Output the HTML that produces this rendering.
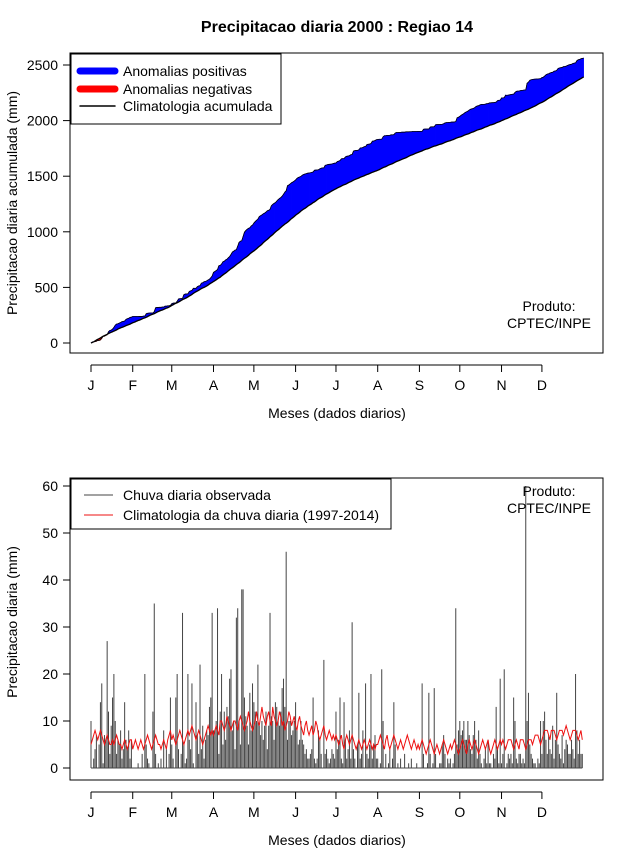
<!DOCTYPE html>
<html><head><meta charset="utf-8"><style>
body{margin:0;background:#fff;}
svg{display:block;font-family:"Liberation Sans",sans-serif;}
</style></head><body>
<svg id="chart" width="640" height="850" xmlns="http://www.w3.org/2000/svg">
<text x="337" y="32" text-anchor="middle" font-size="16" font-weight="bold">Precipitacao diaria 2000 : Regiao 14</text>
<g id="topPanel"></g>
<g id="botPanel"></g>
</svg>
<script>
const months = ["J","F","M","A","M","J","J","A","S","O","N","D"];
const monthStartDays = [0,31,60,91,121,152,182,213,244,274,305,335];
const topTicks = [0,500,1000,1500,2000,2500];
const botTicks = [0,10,20,30,40,50,60];
const climDaily = [
5,6,7,8,7,6,7,8,7,6,5,6,7,6,5,5,6,5,6,7,6,5,5,4,5,6,5,4,5,6,6,
4,5,6,5,4,5,6,5,4,5,6,7,6,5,4,5,6,7,6,5,5,4,5,6,5,4,6,7,8,
6,7,6,5,6,7,8,7,6,5,6,7,8,7,8,9,8,7,6,7,8,7,6,5,6,7,8,9,8,7,8,
7,8,9,8,7,10,10,9,8,9,11,10,9,8,9,10,10,9,8,10,11,10,9,8,9,10,12,10,9,8,
9,10,12,10,9,11,13,11,10,9,11,12,10,9,13,11,10,9,10,12,11,9,10,8,9,10,12,11,9,10,11,
9,8,10,11,9,8,7,9,10,8,7,8,9,7,8,10,9,7,6,7,8,9,7,6,7,8,7,6,7,6,
7,6,5,6,7,5,4,6,7,6,5,6,7,6,5,4,5,6,5,4,5,6,5,4,5,6,5,4,5,4,5,
5,6,7,6,5,4,6,7,5,4,5,6,7,6,5,4,5,6,5,4,5,6,7,6,5,4,5,6,5,4,5,
4,5,6,5,4,3,4,5,6,5,4,3,4,5,4,3,4,5,6,5,4,3,4,5,4,5,6,5,4,3,
4,5,6,5,4,3,5,6,5,4,5,6,5,4,3,4,5,6,5,4,5,6,4,3,4,5,6,5,4,5,6,
5,6,5,4,5,6,6,6,5,4,5,6,5,4,6,6,6,5,4,5,6,6,6,5,6,7,7,7,6,5,
6,7,8,8,8,7,6,8,8,8,7,6,7,8,8,8,7,8,9,8,7,6,7,8,8,8,7,6,7,8,6];
const obsDaily = [
10,0,2,4,7,0,5,14,18,1,7,6,27,12,3,9,15,20,10,3,6,5,8,2,4,14,6,4,8,2,6,
0,0,0,0,1,0,0,3,0,20,5,2,1,0,0,12,35,3,0,1,0,2,0,8,0,4,0,3,15,
5,2,0,15,20,4,0,3,33,5,1,2,20,6,4,18,1,0,14,7,3,22,4,9,2,6,8,7,13,15,33,
8,8,10,34,3,12,20,5,12,6,13,11,19,21,8,10,4,32,34,10,5,38,38,15,11,9,5,16,8,18,
14,12,10,22,9,7,10,6,9,12,4,9,33,11,10,6,14,13,10,9,12,17,19,13,46,6,10,10,7,8,10,
14,8,5,6,10,6,5,3,4,2,2,3,4,15,2,1,2,8,6,3,0,23,3,4,2,1,2,4,3,2,
12,4,6,15,2,1,14,6,2,4,8,2,31,4,2,0,5,16,2,3,8,0,18,3,2,5,20,2,5,7,2,
2,0,1,21,10,0,3,0,1,4,0,2,14,5,0,1,0,2,0,0,3,0,0,1,0,2,0,0,0,1,0,
0,0,18,3,0,0,1,16,3,0,1,17,3,0,0,1,1,5,7,3,0,2,1,2,0,1,3,34,5,8,
10,7,8,10,6,6,10,7,4,3,7,10,6,2,8,3,1,0,2,4,1,6,1,1,0,3,2,13,4,1,19,
1,3,21,0,1,3,2,3,1,15,10,2,1,3,3,1,2,1,60,10,16,5,3,2,1,1,0,2,1,10,
3,10,12,6,3,7,4,3,9,2,6,16,5,3,2,7,1,4,6,5,3,3,6,4,2,20,8,3,6,3,3];

const NS="http://www.w3.org/2000/svg";
function mk(parent,tag,attrs){const e=document.createElementNS(NS,tag);for(const k in attrs)e.setAttribute(k,attrs[k]);parent.appendChild(e);return e;}
const xDay = d => 91 + d*1.346;
const yTop = v => 343 - v*(278/2500);
const yBot = v => 768 - v*(282/60);
const nDays = Math.min(obsDaily.length, climDaily.length);

function axes(g, boxY, boxH, yfun, ticks, axisY, ytitle, ytitleY){
  const box=mk(g,'rect',{x:70,y:boxY,width:533,height:boxH,fill:'none',stroke:'#000'});
  
  
  ticks.forEach(t=>{
    const y=yfun(t);
    const l=mk(g,'line',{x1:63,x2:70,y1:y,y2:y,stroke:'#000'});
    
    
    const tx=mk(g,'text',{x:58,y:y+5,'text-anchor':'end','font-size':14});
    tx.textContent=t;
    
    
  });
  const ax=mk(g,'line',{x1:xDay(0),x2:xDay(monthStartDays[11]),y1:axisY,y2:axisY,stroke:'#000'});
  
  
  months.forEach((m,i)=>{
    const x=xDay(monthStartDays[i]);
    const l=mk(g,'line',{x1:x,x2:x,y1:axisY,y2:axisY+7,stroke:'#000'});
    
    
    const tx=mk(g,'text',{x:x,y:axisY+25,'text-anchor':'middle','font-size':14});
    tx.textContent=m;
    
    
  });
  const xt=mk(g,'text',{x:337,y:axisY+53,'text-anchor':'middle','font-size':14});
  xt.textContent='Meses (dados diarios)';
  
  
  const yt=mk(g,'text',{x:17,y:ytitleY,'text-anchor':'middle','font-size':14,transform:`rotate(-90 17 ${ytitleY})`});
  yt.textContent=ytitle;
  
  
}
function produto(g,y){
  const a=mk(g,'text',{x:549,y:y,'text-anchor':'middle','font-size':14});a.textContent='Produto:';
  
  
  const b=mk(g,'text',{x:549,y:y+17,'text-anchor':'middle','font-size':14});b.textContent='CPTEC/INPE';
  
  
}

// TOP
const topG=document.getElementById('topPanel');
let co=0,cc=0;const cumObs=[0],cumClim=[0];
for(let i=0;i<nDays;i++){co+=obsDaily[i];cc+=climDaily[i];cumObs.push(co);cumClim.push(cc);}
for(let i=0;i<nDays;i++){
  const a=cumObs[i]-cumClim[i], b=cumObs[i+1]-cumClim[i+1];
  const col=(a+b)>=0?'#0000ff':'#ff0000';
  const p=mk(topG,'polygon',{points:`${xDay(i)},${yTop(cumObs[i])} ${xDay(i+1)},${yTop(cumObs[i+1])} ${xDay(i+1)},${yTop(cumClim[i+1])} ${xDay(i)},${yTop(cumClim[i])}`,fill:col,stroke:col,'stroke-width':0.6});
  
  
}
let po='',pc='';
for(let i=0;i<cumObs.length;i++){po+=`${xDay(i)},${yTop(cumObs[i])} `;pc+=`${xDay(i)},${yTop(cumClim[i])} `;}
const lo=mk(topG,'polyline',{points:po,fill:'none',stroke:'#000','stroke-width':0.8});


const lc=mk(topG,'polyline',{points:pc,fill:'none',stroke:'#000','stroke-width':1.3});


axes(topG,53,300,yTop,topTicks,365,'Precipitacao diaria acumulada (mm)',203);
produto(topG,311);

const lg=mk(topG,'g',{});


mk(lg,'rect',{x:71,y:54,width:210,height:70,fill:'#fff',stroke:'#000'});
[['Anomalias positivas','#0000ff',7,71],['Anomalias negativas','#ff0000',7,89],['Climatologia acumulada','#000',1.5,106]].forEach(e=>{
  const l=mk(lg,'line',{x1:80,x2:115,y1:e[3],y2:e[3],stroke:e[1],'stroke-width':e[2],'stroke-linecap':'round'});
  
  
  const t=mk(lg,'text',{x:123,y:e[3]+5,'font-size':14});t.textContent=e[0];
  
  
});

// BOTTOM
const botG=document.getElementById('botPanel');
for(let i=0;i<nDays;i++){
  const l=mk(botG,'line',{x1:xDay(i),x2:xDay(i),y1:yBot(0),y2:yBot(obsDaily[i]),stroke:'#444','stroke-width':1});
  
  
}
const zl=mk(botG,'line',{x1:xDay(0),x2:xDay(nDays-1),y1:yBot(0),y2:yBot(0),stroke:'#444'});


let pr='';for(let i=0;i<nDays;i++){pr+=`${xDay(i)},${yBot(climDaily[i])} `;}
const rl=mk(botG,'polyline',{points:pr,fill:'none',stroke:'#ee1111','stroke-width':1});


axes(botG,478,302,yBot,botTicks,792,'Precipitacao diaria (mm)',622);
produto(botG,496);
const lg2=mk(botG,'g',{});


mk(lg2,'rect',{x:71,y:479,width:320,height:50,fill:'#fff',stroke:'#000'});
[['Chuva diaria observada','#444',495],['Climatologia da chuva diaria (1997-2014)','#ee1111',515]].forEach(e=>{
  const l=mk(lg2,'line',{x1:84,x2:113,y1:e[2],y2:e[2],stroke:e[1],'stroke-width':1});
  
  
  const t=mk(lg2,'text',{x:123,y:e[2]+5,'font-size':14});t.textContent=e[0];
  
  
});
</script>
</body></html>
